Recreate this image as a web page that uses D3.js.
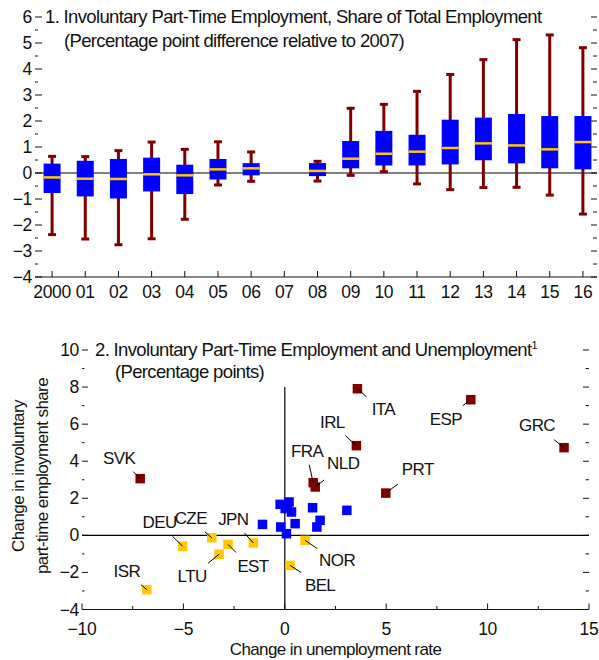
<!DOCTYPE html>
<html>
<head>
<meta charset="utf-8">
<script src="https://cdn.jsdelivr.net/npm/d3@7"></script>
<style>
  body { margin: 0; background: #fff; }
  svg text { font-family: "Liberation Sans", Arial, sans-serif; font-size: 17px; letter-spacing: -0.6px; fill: #111; }
  svg text.tick { font-size: 17.5px; letter-spacing: -0.3px; }
  svg text.title { font-size: 18.5px; letter-spacing: -0.65px; }
</style>
</head>
<body>
<script>
// panel 1: box plots by year (pp difference vs 2007)
var years = ["2000","01","02","03","04","05","06","07","08","09","10","11","12","13","14","15","16"];
var whiskerHi = [0.64, 0.63, 0.86, 1.19, 0.91, 1.20, 0.81, 0, 0.45, 2.49, 2.64, 3.14, 3.79, 4.36, 5.13, 5.31, 4.82];
var boxHi     = [0.36, 0.47, 0.54, 0.59, 0.32, 0.54, 0.38, 0, 0.38, 1.23, 1.62, 1.47, 2.05, 2.13, 2.27, 2.19, 2.19];
var medians   = [-0.17, -0.22, -0.23, -0.05, -0.09, 0.14, 0.18, 0, 0.08, 0.55, 0.74, 0.82, 0.96, 1.14, 1.06, 0.91, 1.19];
var boxLo     = [-0.77, -0.90, -0.98, -0.71, -0.81, -0.25, -0.09, 0, -0.12, 0.18, 0.29, 0.29, 0.33, 0.49, 0.37, 0.18, 0.14];
var whiskerLo = [-2.37, -2.54, -2.76, -2.53, -1.78, -0.46, -0.32, 0, -0.31, -0.09, 0.05, -0.42, -0.64, -0.56, -0.55, -0.85, -1.58];
var yTicks1 = [-4, -3, -2, -1, 0, 1, 2, 3, 4, 5, 6];

// panel 2: scatter
var countries = ["SVK","DEU","CZE","JPN","LTU","EST","ISR","BEL","NOR","ITA","ESP","IRL","GRC","FRA","NLD","PRT"];
var unempChange = [-7.13, -5.04, -3.60, -1.55, -3.24, -2.80, -6.80, 0.26, 1.00, 3.58, 9.17, 3.53, 13.77, 1.40, 1.50, 4.98];
var iptChange   = [3.06, -0.59, -0.13, -0.41, -1.02, -0.49, -2.93, -1.62, -0.27, 7.91, 7.32, 4.84, 4.73, 2.84, 2.61, 2.28];
var group       = ["up","down","down","down","down","down","down","down","down","up","up","up","up","up","up","up"];
var otherX = [-1.10, -0.23, 0.21, 0.33, 0.02, 0.12, -0.20, 0.08, 0.51, 1.37, 1.74, 1.58, 3.06];
var otherY = [0.59, 1.67, 1.80, 1.26, 1.45, 1.55, 0.45, 0.09, 0.63, 1.49, 0.81, 0.45, 1.35];
var xTicks2 = [-10, -5, 0, 5, 10, 15];
var yTicks2 = [-4, -2, 0, 2, 4, 6, 8, 10];

// label placement (px offsets from point: text dx, dy, leader start lx, ly)
var labelPos = {
  SVK: [-21, -15, -7, -7], DEU: [-23, -18, -10, -10], CZE: [-21, -14, -7, -6],
  JPN: [-20, -18, -9, -10], LTU: [-27, 28, -11, 9], EST: [25, 28, 8, 8],
  ISR: [-20, -13, -6, -5], BEL: [30, 26, 11, 7], NOR: [32, 26, 12, 8],
  ITA: [26, 26, 9, 8], ESP: [-25, 25, -8, 6], IRL: [-24, -18, -11, -10],
  GRC: [-27, -17, -10, -8], FRA: [-6, -26, -4, -18], NLD: [28, -18, 9, -7],
  PRT: [32, -18, 12, -9]
};

var BLUE = "#0000ff", RED = "#800000", GOLD = "#ffc800";
var minus = function(v){ return String(v).replace("-", "\u2212"); };

var svg = d3.select("body").append("svg").attr("width", 599).attr("height", 660);

// ---------- panel 1 ----------
var L1 = 35, R1 = 597, T1 = 17, B1 = 277;
var x1 = d3.scaleBand().domain(years).range([L1 + 0.5, R1 + 2.5]);
var y1 = d3.scaleLinear().domain([-4, 6]).range([B1, T1]);
var g1 = svg.append("g");

// minor/major y ticks both sides
d3.range(-4, 6.01, 0.5).forEach(function(v){
  var major = Number.isInteger(v);
  g1.append("line").attr("x1", L1).attr("x2", L1 + (major ? 7 : 3))
    .attr("y1", y1(v)).attr("y2", y1(v)).attr("stroke", "#111").attr("stroke-width", 1);
  g1.append("line").attr("x1", R1).attr("x2", R1 - (major ? 6 : 4))
    .attr("y1", y1(v)).attr("y2", y1(v)).attr("stroke", "#111").attr("stroke-width", 1);
});
g1.selectAll(".yl").data(yTicks1).enter().append("text").attr("class", "tick")
  .attr("x", L1 - 3).attr("y", function(d){ return y1(d) + 6; })
  .attr("text-anchor", "end").text(function(d){ return minus(d); });

// bottom axis
g1.append("line").attr("x1", L1).attr("x2", R1).attr("y1", B1).attr("y2", B1).attr("stroke", "#111");
years.forEach(function(yr){
  var cx = x1(yr) + x1.bandwidth() / 2;
  g1.append("line").attr("x1", cx).attr("x2", cx).attr("y1", B1).attr("y2", B1 - 6).attr("stroke", "#111");
  g1.append("text").attr("class", "tick").attr("x", cx).attr("y", B1 + 21).attr("text-anchor", "middle").text(yr);
});
g1.append("line").attr("x1", L1).attr("x2", R1).attr("y1", y1(0)).attr("y2", y1(0)).attr("stroke", "#000").attr("stroke-width", 1.2);

var bw = 17, cw = 8;
years.forEach(function(yr, i){
  if (yr === "07") return;
  var cx = x1(yr) + x1.bandwidth() / 2;
  var bg = g1.append("g");
  bg.append("line").attr("x1", cx).attr("x2", cx).attr("y1", y1(whiskerHi[i])).attr("y2", y1(whiskerLo[i]))
    .attr("stroke", RED).attr("stroke-width", 3);
  [whiskerHi[i], whiskerLo[i]].forEach(function(v){
    bg.append("line").attr("x1", cx - cw / 2).attr("x2", cx + cw / 2).attr("y1", y1(v)).attr("y2", y1(v))
      .attr("stroke", RED).attr("stroke-width", 3);
  });
  bg.append("rect").attr("x", cx - bw / 2).attr("width", bw)
    .attr("y", y1(boxHi[i])).attr("height", y1(boxLo[i]) - y1(boxHi[i])).attr("fill", BLUE);
  bg.append("line").attr("x1", cx - bw / 2).attr("x2", cx + bw / 2).attr("y1", y1(medians[i])).attr("y2", y1(medians[i]))
    .attr("stroke", GOLD).attr("stroke-width", 2.5);
});

g1.append("text").attr("class", "title").attr("x", 45).attr("y", 23).text("1. Involuntary Part-Time Employment, Share of Total Employment");
g1.append("text").attr("class", "title").attr("x", 64).attr("y", 47).text("(Percentage point difference relative to 2007)");

// ---------- panel 2 ----------
var L2 = 82, R2 = 589, T2 = 350, B2 = 609.5;
var x2 = d3.scaleLinear().domain([-10, 15]).range([L2, R2]);
var y2 = d3.scaleLinear().domain([-4, 10]).range([B2, T2]);
var g2 = svg.append("g");

d3.range(-4, 10.01, 1).forEach(function(v){
  var major = v % 2 === 0;
  g2.append("line").attr("x1", L2).attr("x2", L2 + (major ? 6 : 2.5))
    .attr("y1", y2(v)).attr("y2", y2(v)).attr("stroke", "#111");
  g2.append("line").attr("x1", R2).attr("x2", R2 - (major ? 6 : 3.5))
    .attr("y1", y2(v)).attr("y2", y2(v)).attr("stroke", "#111");
});
g2.selectAll(".yl").data(yTicks2).enter().append("text").attr("class", "tick")
  .attr("x", L2 - 3).attr("y", function(d){ return y2(d) + 6; })
  .attr("text-anchor", "end").text(function(d){ return minus(d); });

g2.append("line").attr("x1", L2).attr("x2", R2).attr("y1", B2).attr("y2", B2).attr("stroke", "#111");
d3.range(-10, 15.01, 2.5).forEach(function(v){
  var major = v % 5 === 0;
  g2.append("line").attr("x1", x2(v)).attr("x2", x2(v)).attr("y1", B2).attr("y2", B2 - (major ? 6 : 3.5)).attr("stroke", "#111");
});
g2.selectAll(".xl").data(xTicks2).enter().append("text").attr("class", "tick")
  .attr("x", function(d){ return x2(d); }).attr("y", B2 + 25)
  .attr("text-anchor", "middle").text(function(d){ return minus(d); });

// zero lines
g2.append("line").attr("x1", L2).attr("x2", R2).attr("y1", y2(0)).attr("y2", y2(0)).attr("stroke", "#000").attr("stroke-width", 1.2);
g2.append("line").attr("x1", x2(0)).attr("x2", x2(0)).attr("y1", y2(8)).attr("y2", B2).attr("stroke", "#000").attr("stroke-width", 1.2);

var sq = 9.5;
otherX.forEach(function(v, i){
  g2.append("rect").attr("x", x2(v) - sq / 2).attr("y", y2(otherY[i]) - sq / 2)
    .attr("width", sq).attr("height", sq).attr("fill", BLUE);
});
countries.forEach(function(c, i){
  var cx = x2(unempChange[i]), cy = y2(iptChange[i]);
  g2.append("rect").attr("x", cx - sq / 2).attr("y", cy - sq / 2).attr("width", sq).attr("height", sq)
    .attr("fill", group[i] === "up" ? RED : GOLD);
});
countries.forEach(function(c, i){
  var cx = x2(unempChange[i]), cy = y2(iptChange[i]), p = labelPos[c];
  g2.append("line").attr("x1", cx + p[2]).attr("y1", cy + p[3]).attr("x2", cx).attr("y2", cy)
    .attr("stroke", "#000").attr("stroke-width", 1);
  g2.append("text").attr("x", cx + p[0]).attr("y", cy + p[1]).attr("text-anchor", "middle").text(c);
});

var t2 = g2.append("text").attr("class", "title").attr("x", 95).attr("y", 356).text("2. Involuntary Part-Time Employment and Unemployment");
t2.append("tspan").attr("dy", -7).style("font-size", "11px").text("1");
g2.append("text").attr("class", "title").attr("x", 115).attr("y", 378).text("(Percentage points)");

g2.append("text").attr("x", (L2 + R2) / 2).attr("y", 655).attr("text-anchor", "middle").text("Change in unemployment rate");
g2.append("text").attr("transform", "translate(24,476) rotate(-90)").attr("text-anchor", "middle").text("Change in involuntary");
g2.append("text").attr("transform", "translate(48,476) rotate(-90)").attr("text-anchor", "middle").text("part-time employment share");
</script>
</body>
</html>
